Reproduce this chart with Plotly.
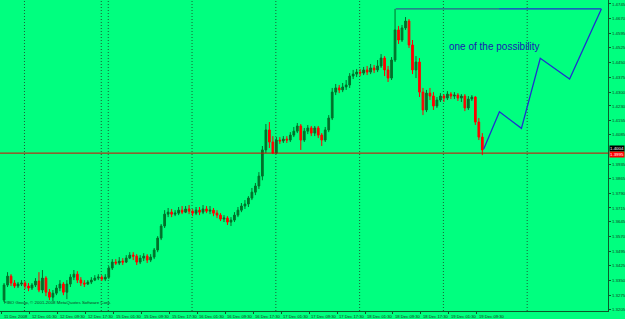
import plotly.graph_objects as go

# ---------------- data (EURUSD H1, 11-19 Dec 2008) ----------------
bar_index = list(range(-6, 132))

opens = [
    1.3250, 1.3326, 1.3371, 1.3336, 1.3321, 1.3331,
    1.3336, 1.3321, 1.3311, 1.3326, 1.3346, 1.3301, 1.3361, 1.3290, 1.3265, 1.3285,
    1.3311, 1.3331, 1.3290, 1.3331, 1.3366, 1.3381, 1.3351, 1.3336, 1.3331, 1.3341,
    1.3351, 1.3361, 1.3366, 1.3356, 1.3366, 1.3412, 1.3442, 1.3437, 1.3447, 1.3442,
    1.3462, 1.3477, 1.3472, 1.3442, 1.3462, 1.3472, 1.3452, 1.3467, 1.3503, 1.3563,
    1.3624, 1.3684, 1.3694, 1.3684, 1.3689, 1.3704, 1.3694, 1.3710, 1.3699, 1.3689,
    1.3704, 1.3694, 1.3710, 1.3699, 1.3704, 1.3689, 1.3679, 1.3659, 1.3664, 1.3644,
    1.3654, 1.3679, 1.3704, 1.3725, 1.3735, 1.3765, 1.3795, 1.3826, 1.3876, 1.4008,
    1.4109, 1.4048, 1.3992, 1.4058, 1.4053, 1.4063, 1.4058, 1.4083, 1.4103, 1.4129,
    1.4058, 1.4103, 1.4119, 1.4093, 1.4119, 1.4083, 1.4058, 1.4109, 1.4169, 1.4300,
    1.4321, 1.4311, 1.4326, 1.4336, 1.4381, 1.4391, 1.4401, 1.4396, 1.4412, 1.4401,
    1.4422, 1.4412, 1.4432, 1.4472, 1.4412, 1.4371, 1.4462, 1.4614, 1.4563, 1.4624,
    1.4659, 1.4538, 1.4412, 1.4452, 1.4300, 1.4210, 1.4295, 1.4280, 1.4230, 1.4260,
    1.4280, 1.4270, 1.4290, 1.4280, 1.4285, 1.4270, 1.4280, 1.4220, 1.4265, 1.4275,
    1.4149, 1.4073,
]
highs = [
    1.3336, 1.3391, 1.3381, 1.3351, 1.3341, 1.3351,
    1.3346, 1.3336, 1.3336, 1.3361, 1.3391, 1.3402, 1.3371, 1.3306, 1.3301, 1.3326,
    1.3351, 1.3341, 1.3351, 1.3381, 1.3402, 1.3396, 1.3366, 1.3351, 1.3351, 1.3366,
    1.3376, 1.3381, 1.3376, 1.3381, 1.3422, 1.3457, 1.3457, 1.3467, 1.3462, 1.3477,
    1.3492, 1.3492, 1.3482, 1.3477, 1.3487, 1.3482, 1.3482, 1.3513, 1.3573, 1.3634,
    1.3704, 1.3715, 1.3710, 1.3704, 1.3720, 1.3725, 1.3725, 1.3730, 1.3710, 1.3720,
    1.3720, 1.3730, 1.3725, 1.3725, 1.3715, 1.3704, 1.3689, 1.3679, 1.3674, 1.3669,
    1.3694, 1.3720, 1.3740, 1.3755, 1.3775, 1.3816, 1.3841, 1.3896, 1.4028, 1.4139,
    1.4149, 1.4078, 1.4073, 1.4073, 1.4078, 1.4078, 1.4098, 1.4124, 1.4144, 1.4139,
    1.4119, 1.4134, 1.4129, 1.4129, 1.4129, 1.4093, 1.4124, 1.4184, 1.4321, 1.4341,
    1.4336, 1.4346, 1.4361, 1.4396, 1.4412, 1.4417, 1.4417, 1.4427, 1.4432, 1.4442,
    1.4437, 1.4462, 1.4492, 1.4482, 1.4432, 1.4477, 1.4720, 1.4634, 1.4639, 1.4679,
    1.4669, 1.4563, 1.4482, 1.4472, 1.4321, 1.4311, 1.4321, 1.4300, 1.4275, 1.4295,
    1.4290, 1.4305, 1.4300, 1.4300, 1.4295, 1.4290, 1.4290, 1.4280, 1.4285, 1.4280,
    1.4169, 1.4093,
]
lows = [
    1.3240, 1.3316, 1.3321, 1.3311, 1.3311, 1.3321,
    1.3306, 1.3295, 1.3301, 1.3316, 1.3290, 1.3285, 1.3270, 1.3250, 1.3245, 1.3275,
    1.3295, 1.3275, 1.3255, 1.3316, 1.3351, 1.3336, 1.3321, 1.3316, 1.3326, 1.3331,
    1.3346, 1.3351, 1.3346, 1.3346, 1.3356, 1.3402, 1.3427, 1.3427, 1.3427, 1.3437,
    1.3457, 1.3452, 1.3427, 1.3432, 1.3447, 1.3437, 1.3442, 1.3457, 1.3492, 1.3553,
    1.3614, 1.3669, 1.3669, 1.3674, 1.3679, 1.3684, 1.3689, 1.3684, 1.3674, 1.3679,
    1.3679, 1.3684, 1.3689, 1.3684, 1.3674, 1.3664, 1.3649, 1.3644, 1.3629, 1.3624,
    1.3644, 1.3669, 1.3694, 1.3710, 1.3720, 1.3755, 1.3780, 1.3811, 1.3855, 1.3992,
    1.4018, 1.3987, 1.3987, 1.4038, 1.4043, 1.4043, 1.4048, 1.4073, 1.4093, 1.4008,
    1.4048, 1.4088, 1.4078, 1.4078, 1.4068, 1.4028, 1.4048, 1.4098, 1.4159, 1.4285,
    1.4295, 1.4300, 1.4311, 1.4321, 1.4366, 1.4376, 1.4381, 1.4386, 1.4386, 1.4391,
    1.4396, 1.4401, 1.4422, 1.4381, 1.4351, 1.4361, 1.4452, 1.4543, 1.4553, 1.4614,
    1.4523, 1.4391, 1.4371, 1.4275, 1.4184, 1.4199, 1.4260, 1.4210, 1.4220, 1.4250,
    1.4250, 1.4260, 1.4265, 1.4265, 1.4255, 1.4250, 1.4204, 1.4210, 1.4255, 1.4134,
    1.4058, 1.3982,
]
closes = [
    1.3326, 1.3371, 1.3336, 1.3321, 1.3331, 1.3336,
    1.3321, 1.3311, 1.3326, 1.3346, 1.3301, 1.3361, 1.3290, 1.3265, 1.3285, 1.3311,
    1.3331, 1.3290, 1.3331, 1.3366, 1.3381, 1.3351, 1.3336, 1.3331, 1.3341, 1.3351,
    1.3361, 1.3366, 1.3356, 1.3366, 1.3412, 1.3442, 1.3437, 1.3447, 1.3442, 1.3462,
    1.3477, 1.3472, 1.3442, 1.3462, 1.3472, 1.3452, 1.3467, 1.3503, 1.3563, 1.3624,
    1.3684, 1.3694, 1.3684, 1.3689, 1.3704, 1.3694, 1.3710, 1.3699, 1.3689, 1.3704,
    1.3694, 1.3710, 1.3699, 1.3704, 1.3689, 1.3679, 1.3659, 1.3664, 1.3644, 1.3654,
    1.3679, 1.3704, 1.3725, 1.3735, 1.3765, 1.3795, 1.3826, 1.3876, 1.4008, 1.4109,
    1.4048, 1.3992, 1.4058, 1.4053, 1.4063, 1.4058, 1.4083, 1.4103, 1.4129, 1.4058,
    1.4103, 1.4119, 1.4093, 1.4119, 1.4083, 1.4058, 1.4109, 1.4169, 1.4300, 1.4321,
    1.4311, 1.4326, 1.4336, 1.4381, 1.4391, 1.4401, 1.4396, 1.4412, 1.4401, 1.4422,
    1.4412, 1.4432, 1.4472, 1.4412, 1.4371, 1.4462, 1.4614, 1.4563, 1.4624, 1.4659,
    1.4538, 1.4412, 1.4452, 1.4300, 1.4210, 1.4295, 1.4280, 1.4230, 1.4260, 1.4280,
    1.4270, 1.4290, 1.4280, 1.4285, 1.4270, 1.4280, 1.4220, 1.4265, 1.4275, 1.4149,
    1.4073, 1.4008,
]

# time-axis labels (every 8 bars)
time_labels = ["11 Dec 2008", "12 Dec 01:30", "12 Dec 09:30", "12 Dec 17:30",
               "15 Dec 01:30", "15 Dec 09:30", "15 Dec 17:30", "16 Dec 01:30",
               "16 Dec 09:30", "16 Dec 17:30", "17 Dec 01:30", "17 Dec 09:30",
               "17 Dec 17:30", "18 Dec 01:30", "18 Dec 09:30", "18 Dec 17:30",
               "19 Dec 01:30", "19 Dec 09:30"]
time_label_pos = [-6.6, 1.4, 9.4, 17.4, 25.4, 33.4, 41.4, 49.4, 57.4, 65.4,
                  73.4, 81.4, 89.4, 97.4, 105.4, 113.4, 121.4, 129.4]
day_separators = [0, 22, 24, 48, 72, 96, 120, 144]

price_ticks = [1.4745, 1.4670, 1.4595, 1.4525, 1.4450, 1.4375, 1.4300, 1.4230,
               1.4155, 1.4085, 1.3935, 1.3865, 1.3790, 1.3715, 1.3645,
               1.3570, 1.3495, 1.3425, 1.3350, 1.3275, 1.3205]
price_tick_text = ["1.4745", "1.4670", "1.4595", "1.4525", "1.4450", "1.4375",
                   "1.4300", "1.4230", "1.4155", "1.4085", "1.3935", "1.3865",
                   "1.3790", "1.3715", "1.3645", "1.3570", "1.3495", "1.3425",
                   "1.3350", "1.3275", "1.3205"]

bid_price = 1.4008
hline_price = 1.3992

# projected path ("one of the possibility")
proj_x = [131.4, 135.9, 142.2, 147.6, 156.0, 165.1]
proj_y = [1.4013, 1.4201, 1.4117, 1.4471, 1.4366, 1.4720]
top_line_x = [106.2, 135.8, 165.1]
top_line_y = [1.4720, 1.4720, 1.4720]

BG = "#00FF7F"
AX = "#0B5A2A"
TXT = "#143C20"

fig = go.Figure()

fig.add_trace(go.Candlestick(
    x=bar_index, open=opens, high=highs, low=lows, close=closes,
    increasing=dict(line=dict(color="#00702A", width=1), fillcolor="#00702A"),
    decreasing=dict(line=dict(color="#FF0000", width=1), fillcolor="#FF0000"),
    whiskerwidth=0, showlegend=False, hoverinfo="skip",
))

# horizontal red line
fig.add_trace(go.Scatter(x=[-7.2, 167.0], y=[hline_price, hline_price], mode="lines",
                         line=dict(color="#E00000", width=1), showlegend=False, hoverinfo="skip"))
# top horizontal line (two tones)
fig.add_trace(go.Scatter(x=top_line_x[:2], y=top_line_y[:2], mode="lines",
                         line=dict(color="#2E5E8E", width=1.2), showlegend=False, hoverinfo="skip"))
fig.add_trace(go.Scatter(x=top_line_x[1:], y=top_line_y[1:], mode="lines",
                         line=dict(color="#1F2FD0", width=1.2), showlegend=False, hoverinfo="skip"))
# projection
fig.add_trace(go.Scatter(x=proj_x, y=proj_y, mode="lines",
                         line=dict(color="#1F2FD0", width=1.3), showlegend=False, hoverinfo="skip"))

shapes = []
for d in day_separators:
    shapes.append(dict(type="line", xref="x", yref="paper", x0=d - 0.15, x1=d - 0.15, y0=0, y1=1,
                       line=dict(color="#1A5C34", width=1, dash="1px,2px"), layer="below"))
fig.update_layout(shapes=shapes)

annotations = []
for lab, pos in zip(time_labels, time_label_pos):
    annotations.append(dict(x=pos, y=-0.004, xref="x", yref="paper", text=lab,
                            showarrow=False, xanchor="left", yanchor="top",
                            font=dict(family="Liberation Sans, Arial", size=4.2, color=TXT)))
annotations.append(dict(x=0.004, y=0.026, xref="paper", yref="paper",
                        text="FIBO Group, \u00a9 2001-2008 MetaQuotes Software Corp.",
                        showarrow=False, xanchor="left", yanchor="middle",
                        font=dict(family="Liberation Sans, Arial", size=4.4, color=TXT)))
annotations.append(dict(x=134.4, y=1.4528, xref="x", yref="y", text="one of the possibility",
                        showarrow=False, xanchor="center", yanchor="middle",
                        font=dict(family="Liberation Sans, Arial", size=10, color="#1A1AB0")))
# price boxes
annotations.append(dict(x=1.0, y=bid_price + 0.0007, xref="paper", yref="y", text="1.4004",
                        showarrow=False, xanchor="left", yanchor="middle", bgcolor="#000000",
                        borderpad=0, xshift=1,
                        font=dict(family="Liberation Sans, Arial", size=4.4, color="#FFFFFF")))
annotations.append(dict(x=1.0, y=hline_price - 0.0009, xref="paper", yref="y", text="1.3995",
                        showarrow=False, xanchor="left", yanchor="middle", bgcolor="#FF0000",
                        borderpad=0, xshift=1,
                        font=dict(family="Liberation Sans, Arial", size=4.4, color="#FFFFFF")))
fig.update_layout(annotations=annotations)

fig.update_layout(
    width=625, height=319,
    margin=dict(l=0, r=17, t=0, b=8),
    paper_bgcolor=BG, plot_bgcolor=BG,
    xaxis=dict(range=[-7.16, 167.0], showgrid=False, zeroline=False, showticklabels=False,
               rangeslider=dict(visible=False), showline=True, linecolor=AX, linewidth=1,
               ticks="outside", tickvals=time_label_pos, ticklen=2, tickcolor=AX, fixedrange=True),
    yaxis=dict(range=[1.3195, 1.4765], side="right", showgrid=False, zeroline=False,
               tickvals=price_ticks, ticktext=price_tick_text, ticks="outside", ticklen=2,
               tickcolor=AX, showline=True, linecolor=AX, linewidth=1,
               tickfont=dict(family="Liberation Sans, Arial", size=4.4, color=TXT)),
)

fig.write_html("out.html")
